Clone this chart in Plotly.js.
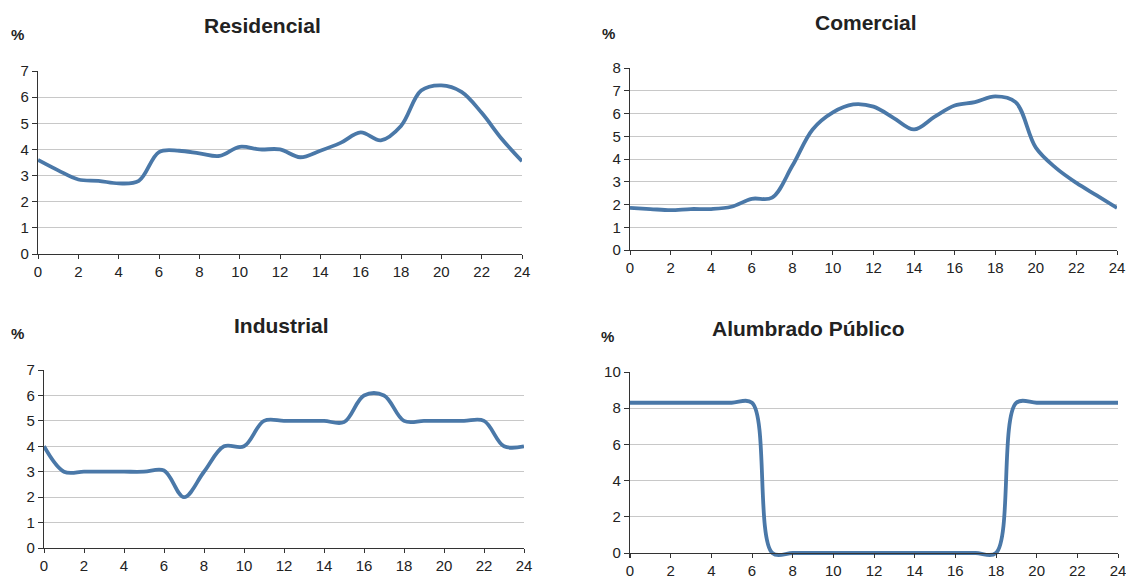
<!DOCTYPE html>
<html>
<head>
<meta charset="utf-8">
<script src="https://cdn.plot.ly/plotly-3.0.1.min.js"></script>
<style>
html,body{margin:0;padding:0;background:#fff;}
#chart{width:1126px;height:581px;}
</style>
</head>
<body>
<div id="chart"></div>
<script>
const hours = [0,1,2,3,4,5,6,7,8,9,10,11,12,13,14,15,16,17,18,19,20,21,22,23,24];
const residencial = [3.6,3.2,2.85,2.8,2.7,2.8,3.9,3.95,3.85,3.75,4.1,4.0,4.0,3.7,3.95,4.25,4.65,4.35,4.9,6.25,6.45,6.2,5.4,4.4,3.55];
const comercial = [1.85,1.8,1.75,1.8,1.8,1.9,2.25,2.3,3.7,5.3,6.05,6.4,6.3,5.8,5.3,5.85,6.35,6.5,6.75,6.5,4.5,3.6,2.95,2.4,1.85];
const industrial = [4.0,3.0,3.0,3.0,3.0,3.0,3.05,2.0,3.0,4.0,4.0,5.0,5.0,5.0,5.0,4.95,6.0,6.0,5.0,5.0,5.0,5.0,5.0,4.0,4.0];
const alumbrado = [8.3,8.3,8.3,8.3,8.3,8.3,8.3,0,0,0,0,0,0,0,0,0,0,0,0,8.3,8.3,8.3,8.3,8.3,8.3];
const titles = ["Residencial","Comercial","Industrial","Alumbrado Público"];
const xTicks = [0,2,4,6,8,10,12,14,16,18,20,22,24];

const W = 1126, H = 581;
const px = v => v / W;
const py = v => 1 - v / H;
const FONT = '"Liberation Sans", Arial, sans-serif';
const lineColor = '#4a78a8';

const series = [residencial, comercial, industrial, alumbrado];
const traces = series.map((s, i) => ({
  x: hours, y: s, type: 'scatter', mode: 'lines',
  line: {color: lineColor, width: 3.8, shape: 'spline', smoothing: 1},
  xaxis: 'x' + (i ? i + 1 : ''), yaxis: 'y' + (i ? i + 1 : ''),
  hoverinfo: 'x+y', showlegend: false
}));

function xa(domain, extra) {
  return Object.assign({
    domain: domain, range: [0, 24], tickvals: xTicks, ticktext: xTicks.map(String),
    showgrid: false, zeroline: false, showline: true, linecolor: '#333', linewidth: 1.2,
    ticks: 'outside', ticklen: 4, tickcolor: '#333', tickwidth: 1, ticklabeloverflow: 'allow',
    tickfont: {family: FONT, size: 15, color: '#222'}, fixedrange: true
  }, extra || {});
}
function ya(domain, range, dtick, extra) {
  return Object.assign({
    domain: domain, range: range, dtick: dtick, tick0: 0,
    showgrid: true, gridcolor: '#c8c8c8', gridwidth: 1, zeroline: false,
    showline: true, linecolor: '#333', linewidth: 1.2,
    ticks: 'outside', ticklen: 5, tickcolor: '#333', tickwidth: 1,
    tickfont: {family: FONT, size: 15, color: '#222'}, fixedrange: true
  }, extra || {});
}

// panel 4 y-range extends slightly below zero to show the spline dip
const p4top = 372, p4zero = 553, p4min = -0.3;
const p4bottom = p4zero + (p4zero - p4top) / 10 * (-p4min);

function ann(text, x, y, size) {
  return {text: text, x: px(x), y: py(y), xref: 'paper', yref: 'paper', xanchor: 'center', yanchor: 'middle',
          showarrow: false, font: {family: FONT, size: size, color: '#222'}};
}

const layout = {
  width: W, height: H,
  margin: {l: 0, r: 0, t: 0, b: 0},
  paper_bgcolor: '#fff', plot_bgcolor: '#fff',
  font: {family: FONT, color: '#222'},
  xaxis: xa([px(38), px(522)], {anchor: 'y'}),
  yaxis: ya([py(254), py(71)], [0, 7], 1, {anchor: 'x'}),
  xaxis2: xa([px(630), px(1117)], {anchor: 'y2'}),
  yaxis2: ya([py(250), py(68)], [0, 8], 1, {anchor: 'x2'}),
  xaxis3: xa([px(44), px(524)], {anchor: 'y3'}),
  yaxis3: ya([py(548), py(370)], [0, 7], 1, {anchor: 'x3'}),
  xaxis4: xa([px(630), px(1118)], {anchor: 'free', position: py(p4zero)}),
  yaxis4: ya([py(p4bottom), py(p4top)], [p4min, 10], 2, {anchor: 'x4', tickvals: [0,2,4,6,8,10]}),
  annotations: [
    ann('<b>' + titles[0] + '</b>', 262, 26, 21),
    ann('<b>' + titles[1] + '</b>', 866, 23, 21),
    ann('<b>' + titles[2] + '</b>', 281, 325, 21),
    ann('<b>' + titles[3] + '</b>', 808, 328, 21),
    ann('<b>%</b>', 17, 34, 15),
    ann('<b>%</b>', 608, 33, 15),
    ann('<b>%</b>', 17, 333, 15),
    ann('<b>%</b>', 607, 336, 15)
  ]
};

Plotly.newPlot('chart', traces, layout, {displayModeBar: false, staticPlot: true});
</script>
</body>
</html>
